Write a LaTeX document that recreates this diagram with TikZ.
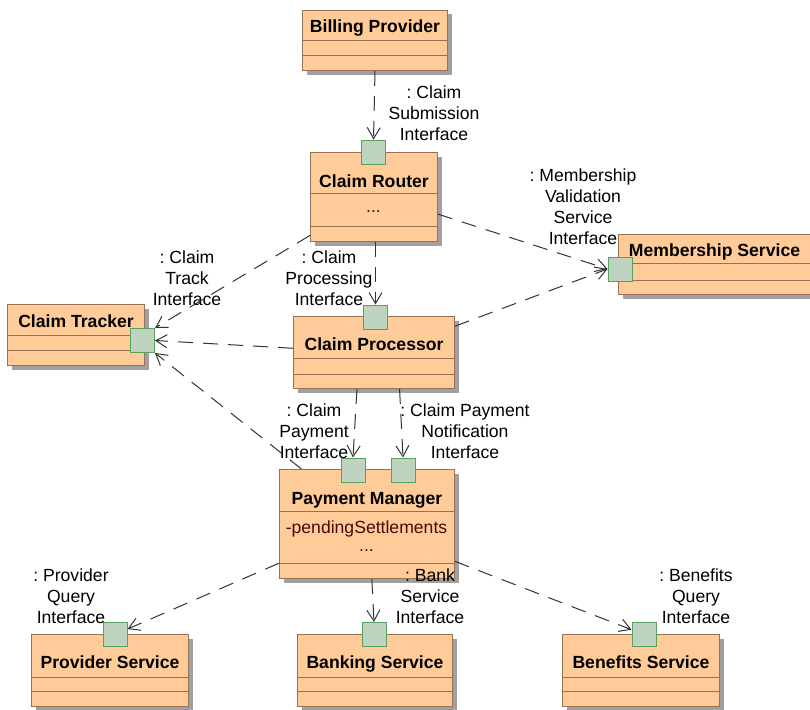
\documentclass[tikz,border=0pt]{standalone}
\usepackage{fontspec}
\setmainfont{Liberation Sans}
\usetikzlibrary{arrows.meta,shadows}
\definecolor{classfill}{RGB}{255,204,153}
\definecolor{classedge}{RGB}{150,115,85}
\definecolor{portfill}{RGB}{190,212,192}
\definecolor{portedge}{RGB}{90,160,95}
\definecolor{shadowgray}{RGB}{160,160,160}
\definecolor{attrtext}{RGB}{70,10,10}
% name, x, y, width, title h, attr h, op h, title baseline, title
\newcommand{\umlclass}[9]{%
  \node[classbox, minimum width=#4pt, minimum height={(#5+#6+#7)*1pt}, anchor=north west] (#1) at (#2,#3) {};
  \node[classtitle, anchor=base] (#1-title) at ([yshift=-#8pt]#1.north) {#9};
  \draw[compline] ([yshift=-#5pt]#1.north west) -- ([yshift=-#5pt]#1.north east);
  \draw[compline] ([yshift={-(#5+#6)*1pt}]#1.north west) -- ([yshift={-(#5+#6)*1pt}]#1.north east);
}

\begin{document}
\frenchspacing
\begin{tikzpicture}[x=1pt, y=-1pt,
    classbox/.style={draw=classedge, fill=classfill, line width=1pt, inner sep=0pt,
      drop shadow={shadow xshift=4pt, shadow yshift=-4pt, fill=shadowgray, opacity=1}},
    classtitle/.style={font=\fontsize{17.6}{21}\selectfont\bfseries, inner sep=0pt},
    compline/.style={draw=classedge, line width=1pt},
    port/.style={draw=portedge, fill=portfill, line width=1pt, minimum size=24pt, inner sep=0pt},
    iface/.style={font=\fontsize{17.6}{21}\selectfont, align=center, inner sep=0pt},
    attr/.style={font=\fontsize{17.6}{21}\selectfont, text=attrtext, inner sep=0pt},
    dep/.style={draw=black!80, line width=1pt, dash pattern=on 15pt off 10pt,
      -{Straight Barb[length=11pt,width=13pt]}}]
    \useasboundingbox (0,0) rectangle (810,709);

    \umlclass{billing}{302}{10}{145}{31}{15}{14}{23}{Billing Provider}
    \umlclass{router}{310}{152}{127}{41}{33}{15}{35}{Claim Router}
    \umlclass{member}{618}{234}{192}{29}{17}{14}{22}{Membership Service}
    \umlclass{tracker}{7}{304}{137}{31}{15}{15}{23}{Claim Tracker}
    \umlclass{processor}{293}{316}{161}{42}{16}{14}{34}{Claim Processor}
    \umlclass{payment}{279}{469}{175}{42}{52}{15}{35}{Payment Manager}
    \umlclass{provider}{31}{634}{157}{43}{14}{15}{34}{Provider Service}
    \umlclass{banking}{297}{634}{155}{43}{14}{15}{34}{Banking Service}
    \umlclass{benefits}{562}{634}{157}{43}{14}{15}{34}{Benefits Service}

    \node[attr, anchor=base] (router-ops) at (373.5,212) {...};
    \node[attr, anchor=base] (payment-attr) at (366.5,533) {-pendingSettlements};
    \node[attr, anchor=base] (payment-more) at (366.5,551) {...};

    %ports
    \node[port] (router-port) at (373.5,152) {};
    \node[port] (member-port) at (620,269) {};
    \node[port] (tracker-port) at (142.5,340.5) {};
    \node[port] (processor-port) at (375.5,317) {};
    \node[port] (claimpay-port) at (353,470) {};
    \node[port] (notify-port) at (403,470) {};
    \node[port] (provider-port) at (115,634.5) {};
    \node[port] (banking-port) at (374,634.5) {};
    \node[port] (benefits-port) at (644,634.5) {};

    \node[iface] (submit-lbl) at (434,113) {: Claim\\Submission\\Interface};
    \node[iface] (member-lbl) at (583,206.5) {: Membership\\Validation\\Service\\Interface};
    \node[iface] (track-lbl) at (187,278) {: Claim\\Track\\Interface};
    \node[iface] (process-lbl) at (329,278) {: Claim\\Processing\\Interface};
    \node[iface] (claimpay-lbl) at (314,431) {: Claim\\Payment\\Interface};
    \node[iface] (notify-lbl) at (465,431) {: Claim Payment\\Notification\\Interface};
    \node[iface] (provider-lbl) at (71,596) {: Provider\\Query\\Interface};
    \node[iface] (bank-lbl) at (430,596) {: Bank\\Service\\Interface};
    \node[iface] (benefits-lbl) at (696,596) {: Benefits\\Query\\Interface};

    \draw[dep] (billing.south) -- (router-port.north);
    \draw[dep] (router.-15) -- (member-port.west);
    \draw[dep] (router.211) -- (tracker-port.north east);
    \draw[dep] (router.south -| processor-port.north) -- (processor-port.north);
    \draw[dep] (processor.177) -- (tracker-port.east);
    \draw[dep] (processor.18) -- (member-port.west);
    \draw[dep] (payment.140) -- (tracker-port.south east);
    \draw[dep] (processor.245) -- (claimpay-port.north);
    \draw[dep] (processor.-55) -- (notify-port.north);
    \draw[dep] (payment.204) -- (provider-port);
    \draw[dep] (payment.-85) -- (banking-port.north);
    \draw[dep] (payment.-23) -- (benefits-port);
\end{tikzpicture}
\end{document}
